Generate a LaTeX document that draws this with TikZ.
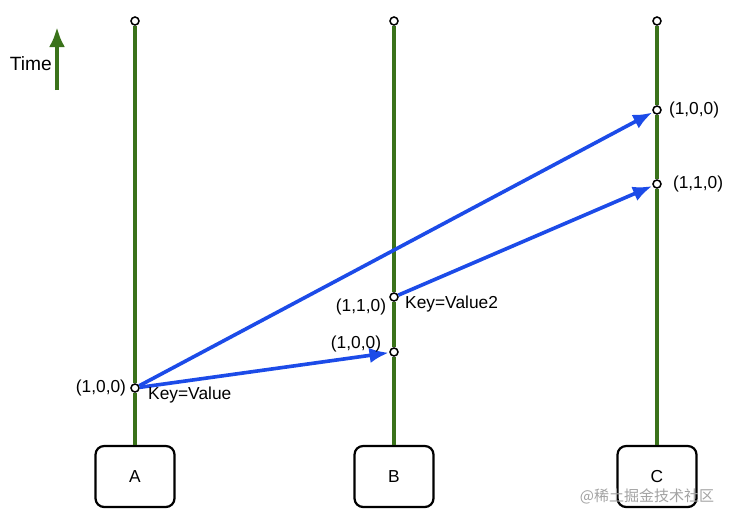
\documentclass[tikz,border=0pt]{standalone}
\usepackage{fontspec}
\setmainfont{Liberation Sans}
\newfontfamily\cjkfont{Noto Sans CJK SC}
\usepackage{xcolor}
\usetikzlibrary{positioning,arrows.meta}
\definecolor{cLife}{HTML}{3A721A}
\definecolor{cMsg}{HTML}{1C4BE8}
\definecolor{cMark}{HTML}{A3A3A3}
\tikzset{
  fig/proc/.style ={draw=black, line width=1.9pt, rounded corners=2.6mm,
                    minimum width=23.7mm, minimum height=18.3mm,
                    font=\fontsize{14.8pt}{17pt}\selectfont, fill=white, inner sep=0pt},
  fig/event/.style={circle, draw=black, line width=1.3pt, fill=white,
                    inner sep=0pt, minimum size=2.4mm},
  fig/life/.style ={cLife, line width=2.9pt},
  fig/msg/.style  ={-{Latex[length=5.8mm, width=4.6mm]}, cMsg, line width=3.1pt,
                    shorten >=0.4pt},
  fig/lbl/.style  ={font=\fontsize{14.8pt}{17pt}\selectfont, inner sep=0pt},
  fig/mark/.style ={font=\cjkfont\fontsize{12.8pt}{15pt}\selectfont, text=cMark, inner sep=0pt}
}
\begin{document}
\begin{tikzpicture}[x=0.03cm, y=-0.03cm]
    \useasboundingbox (0,0) rectangle (732,519);
    % processes and the ends of their time lines
    \foreach \nm/\xx in {A/135, B/394, C/657} {
      \node[fig/proc] (p\nm) at (\xx, 476.5) {\nm};
      \node[fig/event] (t\nm) at (\xx, 21) {};
    }
    % events on the time lines
    \node[fig/event] (ea)  at (135, 388) {};
    \node[fig/event] (eb1) at (394, 352) {};
    \node[fig/event] (eb2) at (394, 297) {};
    \node[fig/event] (ec1) at (657, 110) {};
    \node[fig/event] (ec2) at (657, 184) {};
    % time lines, cut at every event
    \draw[fig/life] (pA) -- (ea) -- (tA);
    \draw[fig/life] (pB) -- (eb1) -- (eb2) -- (tB);
    \draw[fig/life] (pC) -- (ec2) -- (ec1) -- (tC);
    % messages
    \draw[fig/msg] (ea) -- (ec1);
    \draw[fig/msg] (ea) -- (eb1);
    \draw[fig/msg] (eb2) -- (ec2);
    % version vectors and values
    \node[fig/lbl, left=1.2mm of ea] {(1,0,0)};
    \node[fig/lbl, anchor=west] at (148, 395) {Key=Value};
    \node[fig/lbl] at (361, 307) {(1,1,0)};
    \node[fig/lbl, anchor=west] at (405, 304) {Key=Value2};
    \node[fig/lbl] at (356, 344) {(1,0,0)};
    \node[fig/lbl, right=2.1mm of ec1] {(1,0,0)};
    \node[fig/lbl, right=3.3mm of ec2] {(1,1,0)};
    % time axis
    \coordinate (tbot) at (57, 90);
    \coordinate (ttop) at (57, 27);
    \draw[cLife, line width=3.4pt, -{Latex[length=6mm, width=4.8mm]}] (tbot) -- (ttop);
    \node[fig/lbl, font=\fontsize{16.4pt}{19pt}\selectfont, anchor=east] (time) at (52, 64) {Time};
    % watermark
    \node[fig/mark] at (647, 496) {@稀土掘金技术社区};
\end{tikzpicture}
\end{document}
